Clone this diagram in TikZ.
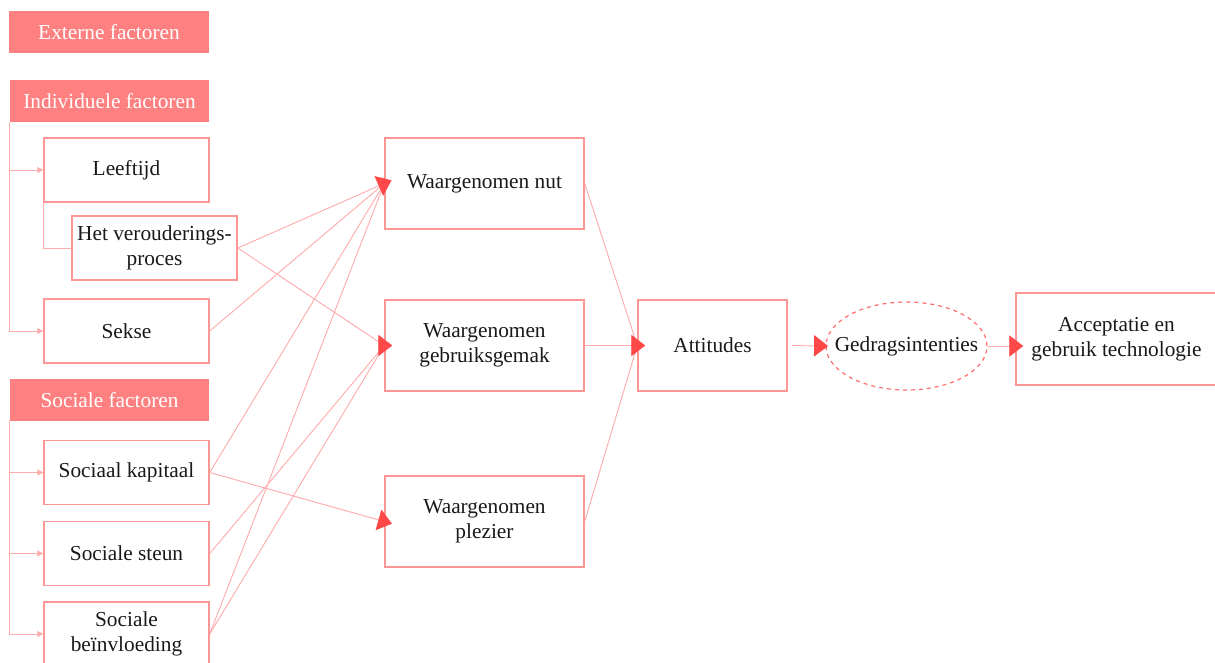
\documentclass[tikz,border=0pt]{standalone}
\usepackage{fontspec}
\setmainfont{Liberation Serif}
\usetikzlibrary{arrows.meta}
\usetikzlibrary{shapes.geometric}
\definecolor{headred}{RGB}{255,128,128}
\definecolor{boxpink}{RGB}{255,150,150}
\definecolor{linkpink}{RGB}{255,172,172}
\definecolor{tipred}{RGB}{255,72,72}
\definecolor{txtgrey}{RGB}{25,25,25}

\begin{document}
\begin{tikzpicture}[x=0.75pt,y=0.75pt,yscale=-1,xscale=1,
  every node/.style={font=\fontsize{16}{19}\selectfont, text=txtgrey, inner sep=0.75pt, align=center},
  headbox/.style={fill=headred, draw=none, text=white, minimum width=149.25pt, minimum height=31pt},
  factorbox/.style={draw=boxpink, line width=1.1pt, minimum width=123.75pt, minimum height=48pt},
  mainbox/.style={draw=boxpink, line width=1.1pt, minimum width=149.25pt, minimum height=68.25pt},
  link/.style={draw=linkpink, line width=0.7pt},
  arrowed/.style={link, -{Triangle[length=10.5pt,width=16pt,color=tipred]}, shorten >=-6pt},
  branch/.style={draw=linkpink, line width=0.75pt, -{Triangle[length=4.5pt,width=4.5pt]}},
  joint/.style={draw=linkpink, line width=0.75pt}
]
\useasboundingbox (0,0) rectangle (1215,662);

%Header Boxes
\node [headbox, minimum width=150pt] (ext) at (109,32) {Externe factoren};
\node [headbox] (indiv) at (109.5,101) {Individuele factoren};
\node [headbox] (soc) at (109.5,400) {Sociale factoren};

%Factor Boxes
\node [factorbox] (leeftijd) at (126.5,170) {Leeftijd};
\node [factorbox] (proces) at (154.5,248) {Het verouderings-\\proces};
\node [factorbox] (sekse) at (126.5,331) {Sekse};
\node [factorbox] (kapitaal) at (126.5,472.5) {Sociaal kapitaal};
\node [factorbox] (steun) at (126.5,553.5) {Sociale steun};
\node [factorbox] (beinvl) at (126.5,634) {Sociale\\beïnvloeding};

%Model Boxes
\node [mainbox] (nut) at (484.5,183.5) {Waargenomen nut};
\node [mainbox] (gemak) at (484.5,345.5) {Waargenomen\\gebruiksgemak};
\node [mainbox] (plezier) at (484.5,521.5) {Waargenomen\\plezier};
\node [mainbox, minimum width=111.75pt] (attitudes) at (712.5,345.5) {Attitudes};
\node [ellipse, draw=tipred!80, dashed, line width=0.9pt, inner xsep=-12pt, inner ysep=0pt, minimum width=120.75pt, minimum height=66pt] (gedrag) at (906.5,346) {Gedragsintenties};
\node [mainbox, minimum width=150.75pt, minimum height=69pt] (accept) at (1116.5,339) {Acceptatie en\\gebruik technologie};

%Brackets
\draw [branch] (indiv.south west) |- (leeftijd.west);
\draw [branch] (indiv.south west) |- (sekse.west);
\draw [joint] (leeftijd.south west) |- (proces.west);
\draw [branch] (soc.south west) |- (kapitaal.west);
\draw [branch] (soc.south west) |- (steun.west);
\draw [branch] (soc.south west) |- (beinvl.west);

%Straight Lines
\draw [link] (sekse.east) -- (nut.west);
\draw [link] (kapitaal.east) -- (nut.west);
\draw [link] (beinvl.east) -- (nut.west);
\draw [arrowed] (proces.east) -- (nut.west);
\draw [link] (proces.east) -- (gemak.west);
\draw [link] (steun.east) -- (gemak.west);
\draw [link] (beinvl.east) -- (gemak.west);
\draw [arrowed] ([xshift=-4pt]gemak.west) -- (gemak.west);
\draw [arrowed] (kapitaal.east) -- (plezier.west);
\draw [link] (nut.east) -- (attitudes.west);
\draw [link] (plezier.east) -- (attitudes.west);
\draw [arrowed] (gemak.east) -- (attitudes.west);
\draw [arrowed, shorten <=3pt, shorten >=-2pt] (attitudes.east) -- (gedrag.west);
\draw [arrowed] (gedrag.east) -- (gedrag.east -| accept.west);

\end{tikzpicture}
\end{document}
